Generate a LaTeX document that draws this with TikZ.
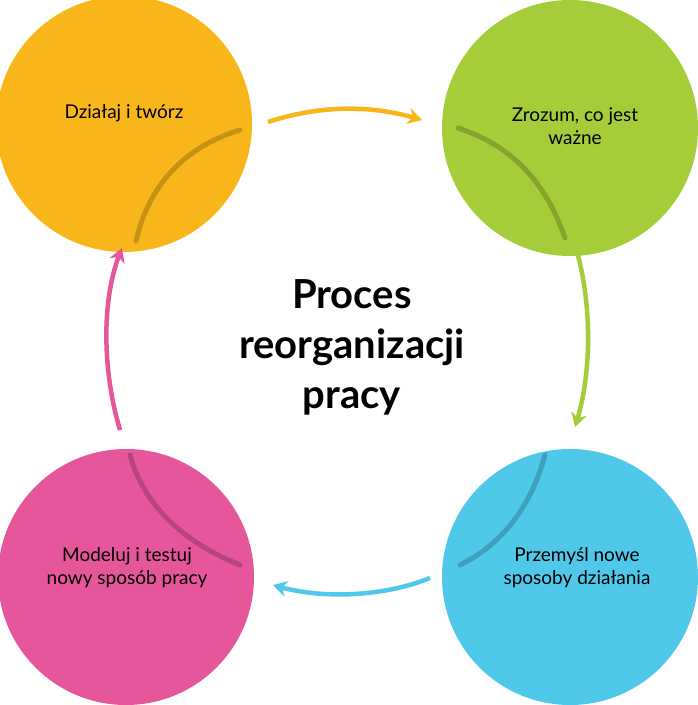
\documentclass[tikz,border=0pt]{standalone}
\usepackage{fontspec}
\setmainfont{Lato}
\usetikzlibrary{arrows.meta}
\definecolor{cor}{HTML}{F9B61A}
\definecolor{cgr}{HTML}{A5CD3A}
\definecolor{cbl}{HTML}{4FC8EA}
\definecolor{cpk}{HTML}{E5579A}
\begin{document}
\begin{tikzpicture}[x=1pt,y=-1pt,
  circ/.style={circle,minimum size=256pt,inner sep=0pt},
  lab/.style={font=\fontsize{19}{23}\selectfont,align=center},
  inner/.style={line width=5pt,black,opacity=0.2,line cap=round},
  conn/.style={line width=4.5pt,-{Stealth[length=14pt,width=16pt]}}]
\useasboundingbox (0,0) rectangle (698,705);
\node[circ,fill=cor] (a) at (124,124) {};
\node[circ,fill=cgr] (b) at (570,128) {};
\node[circ,fill=cbl] (c) at (570,577) {};
\node[circ,fill=cpk] (d) at (126,577) {};
\draw[inner] (136,241) .. controls (150,180) and (190,145) .. (240,130);
\draw[inner] (458,128) .. controls (510,145) and (545,180) .. (565,238);
\draw[inner] (545,455) .. controls (530,510) and (500,545) .. (460,565);
\draw[inner] (130,455) .. controls (145,510) and (190,545) .. (240,565);
\node[lab] at (124,113) {Działaj i twórz};
\node[lab] at (575,126) {Zrozum, co jest\\ważne};
\node[lab] at (577,568) {Przemyśl nowe\\sposoby działania};
\node[lab] at (127,568) {Modeluj i testuj\\nowy sposób pracy};
\node[font=\bfseries\fontsize{40}{50}\selectfont,align=center] (t) at (352,347) {Proces\\reorganizacji\\pracy};
\coordinate (a1) at (268,122); \coordinate (b1) at (422,120);
\coordinate (b2) at (575,245); \coordinate (c2) at (575,427);
\coordinate (c3) at (430,578); \coordinate (d3) at (273,585);
\coordinate (d4) at (120,430); \coordinate (a4) at (122,248);
\draw[conn,cor] (a1) .. controls (320,105) and (370,105) .. (b1);
\draw[conn,cgr] (b2) .. controls (592,300) and (592,370) .. (c2);
\draw[conn,cbl] (c3) .. controls (380,598) and (320,598) .. (d3);
\draw[conn,cpk] (d4) .. controls (102,370) and (102,300) .. (a4);
\end{tikzpicture}
\end{document}
